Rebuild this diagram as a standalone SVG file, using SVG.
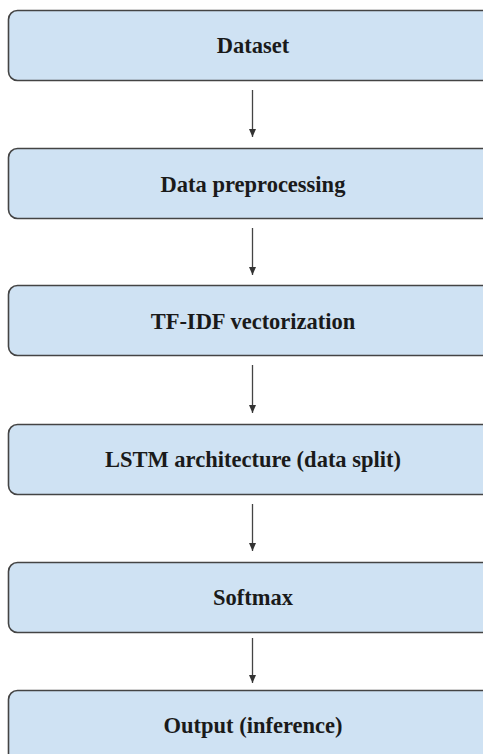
<svg xmlns="http://www.w3.org/2000/svg" width="483" height="754" viewBox="0 0 483 754">
<style>
.box{fill:#cfe2f3;stroke:#444;stroke-width:1.6}
.lbl{font-family:'Liberation Serif','Times New Roman',Times,'DejaVu Serif',serif;font-weight:700;font-size:22.5px;fill:#1a1a1a;text-anchor:middle}
.conn{stroke:#444;stroke-width:1.3;fill:none}
</style>
<defs>
<marker id="ah2" markerWidth="8" markerHeight="8" refX="8" refY="3.5" orient="auto" markerUnits="userSpaceOnUse" viewBox="0 0 8 7">
<path d="M0,0 L8,3.5 L0,7 Z" fill="#333"/>
</marker>
</defs>
<g id="n1"><rect class="box" x="8.5" y="10.5" width="500" height="70" rx="9"/><text class="lbl" x="253" y="53">Dataset</text></g>
<g id="n2"><rect class="box" x="8.5" y="148.5" width="500" height="70" rx="9"/><text class="lbl" x="253" y="192">Data preprocessing</text></g>
<g id="n3"><rect class="box" x="8.5" y="285.5" width="500" height="70" rx="9"/><text class="lbl" x="253" y="329">TF-IDF vectorization</text></g>
<g id="n4"><rect class="box" x="8.5" y="424.5" width="500" height="70" rx="9"/><text class="lbl" x="253" y="467">LSTM architecture (data split)</text></g>
<g id="n5"><rect class="box" x="8.5" y="562.5" width="500" height="70" rx="9"/><text class="lbl" x="253" y="605">Softmax</text></g>
<g id="n6"><rect class="box" x="8.5" y="690.5" width="500" height="100" rx="9"/><text class="lbl" x="253" y="733">Output (inference)</text></g>
<g id="connectors">
<line class="conn" x1="252.5" y1="90" x2="252.5" y2="137" marker-end="url(#ah2)"/>
<line class="conn" x1="252.5" y1="228" x2="252.5" y2="275" marker-end="url(#ah2)"/>
<line class="conn" x1="252.5" y1="365" x2="252.5" y2="413" marker-end="url(#ah2)"/>
<line class="conn" x1="252.5" y1="504" x2="252.5" y2="551" marker-end="url(#ah2)"/>
<line class="conn" x1="252.5" y1="638" x2="252.5" y2="683" marker-end="url(#ah2)"/>
</g>
</svg>
